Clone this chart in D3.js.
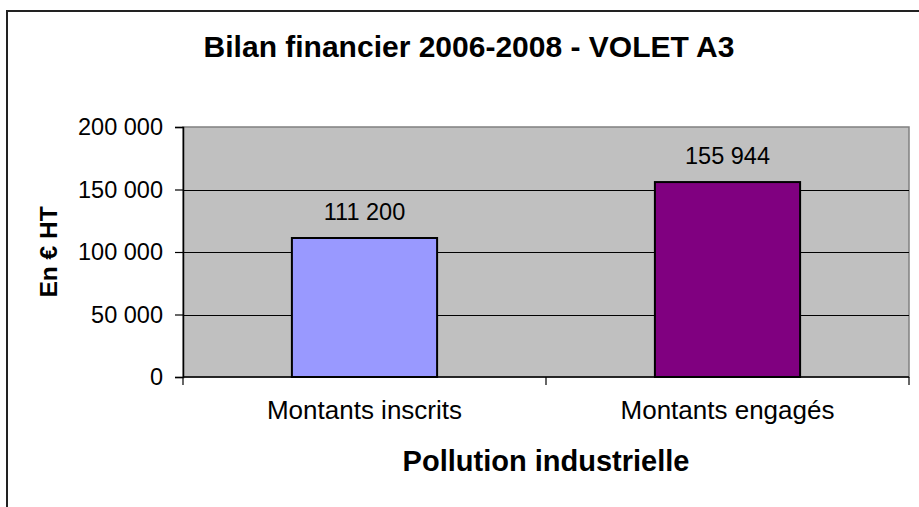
<!DOCTYPE html>
<html>
<head>
<meta charset="utf-8">
<script src="https://cdn.jsdelivr.net/npm/d3@7"></script>
<style>
  body { margin: 0; background: #fff; }
  svg { display: block; font-family: Arial, "Liberation Sans", sans-serif; }
</style>
</head>
<body>
<div id="chart"></div>
<script>
// données du graphique
var categories = ["Montants inscrits", "Montants engagés"];
var montants = [111200, 155944];
var barColors = ["#9999FF", "#800080"];
var yTicks = [0, 50000, 100000, 150000, 200000];

var width = 919, height = 507;
var plot = { left: 183, right: 909, top: 127, bottom: 377 };

// format français : espace comme séparateur des milliers
var fr = d3.formatLocale({ decimal: ",", thousands: " ", grouping: [3], currency: ["", " €"] });
var fmt = fr.format(",");

var svg = d3.select("#chart").append("svg")
    .attr("width", width)
    .attr("height", height);

// cadre du graphique (coupé à droite et en bas)
svg.append("rect")
    .attr("x", 7).attr("y", 11)
    .attr("width", 940).attr("height", 520)
    .attr("fill", "#fff")
    .attr("stroke", "#222")
    .attr("stroke-width", 2);

var x = d3.scaleBand()
    .domain(categories)
    .range([plot.left, plot.right])
    .padding(0);

var y = d3.scaleLinear()
    .domain([0, 200000])
    .range([plot.bottom, plot.top]);

// zone de traçage
svg.append("rect")
    .attr("x", plot.left).attr("y", plot.top)
    .attr("width", plot.right - plot.left)
    .attr("height", plot.bottom - plot.top)
    .attr("fill", "#C0C0C0")
    .attr("stroke", "#808080")
    .attr("stroke-width", 1.5);

// quadrillage
svg.selectAll(".grid")
    .data(yTicks.filter(d => d > 0 && d < 200000))
    .enter().append("line")
    .attr("class", "grid")
    .attr("x1", plot.left).attr("x2", plot.right)
    .attr("y1", d => Math.round(y(d)) + 0.5)
    .attr("y2", d => Math.round(y(d)) + 0.5)
    .attr("stroke", "#000")
    .attr("stroke-width", 1.2);

// barres
var barW = x.bandwidth() * 0.4;
svg.selectAll(".bar")
    .data(montants)
    .enter().append("rect")
    .attr("class", "bar")
    .attr("x", (d, i) => x(categories[i]) + (x.bandwidth() - barW) / 2)
    .attr("y", d => y(d))
    .attr("width", barW)
    .attr("height", d => y(0) - y(d))
    .attr("fill", (d, i) => barColors[i])
    .attr("stroke", "#000")
    .attr("stroke-width", 2);

// étiquettes de valeurs
svg.selectAll(".val")
    .data(montants)
    .enter().append("text")
    .attr("class", "val")
    .attr("x", (d, i) => x(categories[i]) + x.bandwidth() / 2)
    .attr("y", d => y(d) - 18)
    .attr("text-anchor", "middle")
    .style("font-size", "23.5px")
    .attr("fill", "#000")
    .text(d => fmt(d));

// axe Y
var yAxis = d3.axisLeft(y)
    .tickValues(yTicks)
    .tickSize(8)
    .tickPadding(12)
    .tickFormat(fmt);

var gy = svg.append("g")
    .attr("transform", "translate(" + plot.left + ",0)")
    .call(yAxis);
gy.select(".domain").attr("stroke", "#000").attr("stroke-width", 1.5);
gy.selectAll(".tick line").attr("stroke", "#000").attr("stroke-width", 1.2);
gy.selectAll(".tick text")
    .style("font-size", "23.5px")
    .style("font-family", "Arial, 'Liberation Sans', sans-serif")
    .attr("fill", "#000");

// axe X : ligne + graduations aux limites des catégories
svg.append("line")
    .attr("x1", plot.left).attr("x2", plot.right)
    .attr("y1", plot.bottom).attr("y2", plot.bottom)
    .attr("stroke", "#000").attr("stroke-width", 1.5);

var xTickPos = categories.map(c => x(c)).concat([x.range()[1]]);
svg.selectAll(".xtick")
    .data(xTickPos)
    .enter().append("line")
    .attr("class", "xtick")
    .attr("x1", d => d).attr("x2", d => d)
    .attr("y1", plot.bottom).attr("y2", plot.bottom + 8)
    .attr("stroke", "#000").attr("stroke-width", 1.2);

svg.selectAll(".xlab")
    .data(categories)
    .enter().append("text")
    .attr("class", "xlab")
    .attr("x", d => x(d) + x.bandwidth() / 2)
    .attr("y", 419)
    .attr("text-anchor", "middle")
    .style("font-size", "26px")
    .text(d => d);

// titres
svg.append("text")
    .attr("x", 469).attr("y", 57)
    .attr("text-anchor", "middle")
    .style("font-size", "30px")
    .style("font-weight", "bold")
    .text("Bilan financier 2006-2008 - VOLET A3");

svg.append("text")
    .attr("x", (plot.left + plot.right) / 2).attr("y", 471)
    .attr("text-anchor", "middle")
    .style("font-size", "29px")
    .style("font-weight", "bold")
    .text("Pollution industrielle");

svg.append("text")
    .attr("transform", "translate(57," + ((plot.top + plot.bottom) / 2) + ") rotate(-90)")
    .attr("text-anchor", "middle")
    .style("font-size", "24.5px")
    .style("font-weight", "bold")
    .text("En € HT");
</script>
</body>
</html>
